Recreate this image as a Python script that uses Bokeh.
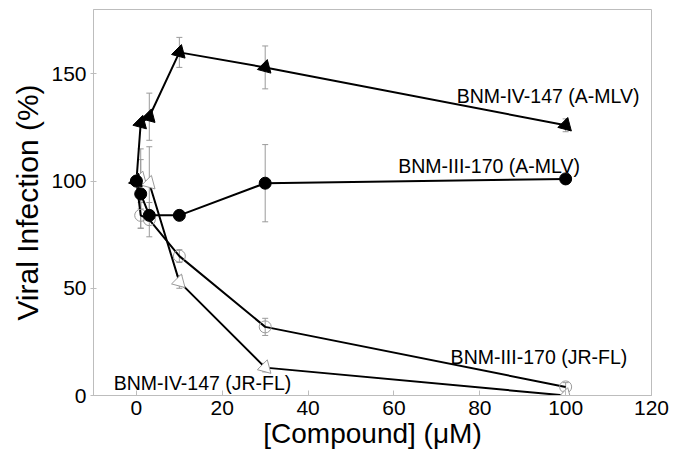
from bokeh.plotting import figure
from bokeh.models import Range1d, Whisker, ColumnDataSource, FixedTicker, TeeHead
from bokeh.embed import file_html
from bokeh.resources import INLINE
from bokeh.core.properties import value

# ---- data ----
conc = [0, 1, 3, 10, 30, 100]

iv147_amlv = [100, 127, 130, 160, 153, 126]
iv147_amlv_err = [0, 0, 11, 7, 10, 3]

iii170_amlv = [100, 94, 84, 84, 99, 101]
iii170_amlv_err = [0, 16, 0, 0, 18, 0]

iii170_jrfl = [100, 84, 82, 65, 32, 4]
iii170_jrfl_err = [0, 6, 8, 3, 4, 2]

iv147_jrfl = [100, 101, 99, 53, 13, 0]
iv147_jrfl_err = [0, 14, 17, 3, 2, 0]

label_text = ["BNM-IV-147 (A-MLV)", "BNM-III-170 (A-MLV)",
              "BNM-III-170 (JR-FL)", "BNM-IV-147 (JR-FL)"]
label_x = [74.6, 61.0, 73.2, -5.3]
label_y = [139.5, 107.0, 18.0, 6.0]

x_ticks = [0, 20, 40, 60, 80, 100, 120]
y_ticks = [0, 50, 100, 150]

FONT = "Liberation Sans"
GRAY = "#bdbdbd"
ERR = "#9a9a9a"

p = figure(width=685, height=456, output_backend="svg", toolbar_location=None,
           title=None, x_range=Range1d(-10, 120), y_range=Range1d(0, 180),
           min_border_left=93, min_border_right=34, min_border_top=9,
           min_border_bottom=61)
p.background_fill_color = "white"
p.border_fill_color = "white"
p.outline_line_color = GRAY
p.outline_line_width = 1
p.xgrid.visible = False
p.ygrid.visible = False

for ax in (p.xaxis[0], p.yaxis[0]):
    ax.axis_line_color = GRAY
    ax.major_tick_line_color = GRAY
    ax.minor_tick_line_color = None
    ax.major_label_text_font = FONT
    ax.major_label_text_color = "black"
    ax.axis_label_text_font = FONT
    ax.axis_label_text_font_style = "normal"
    ax.axis_label_text_color = "black"

p.xaxis.ticker = FixedTicker(ticks=x_ticks)
p.yaxis.ticker = FixedTicker(ticks=y_ticks)
p.xaxis.major_tick_in = 5
p.xaxis.major_tick_out = 0
p.yaxis.major_tick_in = 3
p.yaxis.major_tick_out = 3
p.xaxis.major_label_text_font_size = "21px"
p.yaxis.major_label_text_font_size = "21px"
p.xaxis.major_label_standoff = 5
p.yaxis.major_label_standoff = 4
p.xaxis.axis_label = "[Compound] (\u03bcM)"
p.yaxis.axis_label = "Viral Infection (%)"
p.xaxis.axis_label_text_font_size = "28px"
p.yaxis.axis_label_text_font_size = "30px"
p.xaxis.axis_label_standoff = 0
p.yaxis.axis_label_standoff = 4


def whiskers(ys, errs):
    b = [c for c, e in zip(conc, errs) if e > 0]
    up = [y + e for y, e in zip(ys, errs) if e > 0]
    lo = [y - e for y, e in zip(ys, errs) if e > 0]
    src = ColumnDataSource(dict(base=b, upper=up, lower=lo))
    w = Whisker(source=src, base="base", upper="upper", lower="lower",
                line_color=ERR, line_width=1,
                upper_head=TeeHead(size=6, line_color=ERR, line_width=1),
                lower_head=TeeHead(size=6, line_color=ERR, line_width=1))
    p.add_layout(w)


for ys, es in ((iv147_amlv, iv147_amlv_err), (iii170_amlv, iii170_amlv_err),
               (iii170_jrfl, iii170_jrfl_err), (iv147_jrfl, iv147_jrfl_err)):
    whiskers(ys, es)

# lines
for ys in (iii170_jrfl, iv147_jrfl, iii170_amlv, iv147_amlv):
    p.line(conc, ys, line_color="black", line_width=2)

# markers
p.scatter(conc, iii170_jrfl, marker="circle", size=12, fill_alpha=0,
          line_color=ERR, line_width=1)
p.scatter(conc, iv147_jrfl, marker="triangle", size=14, angle=-15,
          angle_units="deg", fill_color="white", line_color=ERR, line_width=1)
p.scatter(conc, iii170_amlv, marker="circle", size=12, fill_color="black",
          line_color="black")
p.scatter(conc, iv147_amlv, marker="triangle", size=14, angle=-15,
          angle_units="deg", fill_color="black", line_color="black")

# series labels
lsrc = ColumnDataSource(dict(x=label_x, y=label_y, t=label_text))
p.text(x="x", y="y", text="t", source=lsrc, text_font=value(FONT),
       text_font_size="19.5px", text_align="left", text_baseline="middle",
       text_color="black")

open("out.html", "w").write(file_html(p, INLINE))
